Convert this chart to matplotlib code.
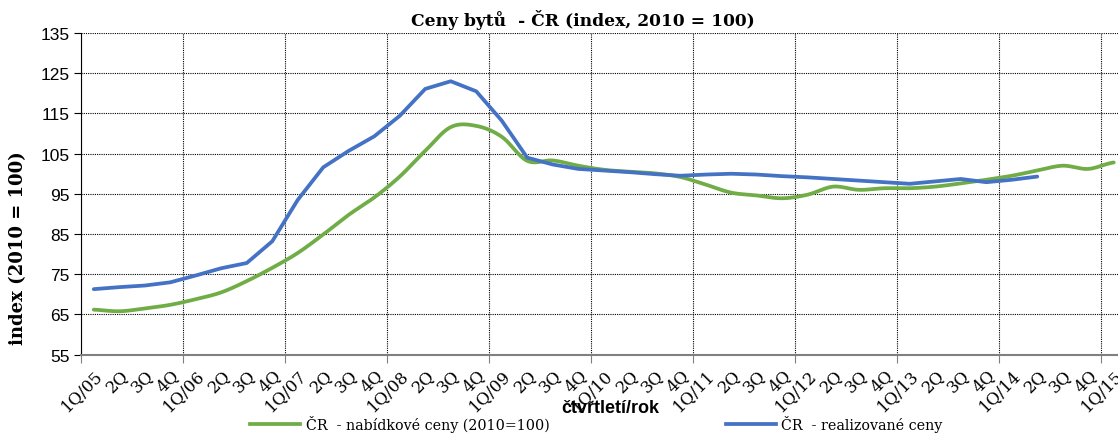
import numpy as np
import matplotlib
matplotlib.use('Agg')
import matplotlib.pyplot as plt
from matplotlib.lines import Line2D

# quarters 1Q/05 .. 1Q/15
years = ['05', '06', '07', '08', '09', '10', '11', '12', '13', '14', '15']
quarter_labels = []
for y in years[:-1]:
    quarter_labels += ['1Q/' + y, '2Q', '3Q', '4Q']
quarter_labels += ['1Q/' + years[-1]]

# CR - nabidkove ceny (2010=100)
offer = [66.2, 65.8, 66.5, 67.4, 68.8, 70.5, 73.3, 76.6, 80.3, 84.9,
         89.8, 94.1, 99.3, 105.7, 111.6, 111.9, 109.2, 103.2, 103.3, 102.0,
         101.0, 100.5, 100.1, 99.2, 97.3, 95.3, 94.6, 93.9, 94.8, 96.8,
         96.0, 96.4, 96.4, 96.8, 97.6, 98.5, 99.5, 100.8, 102.0, 101.2,
         102.8]

# CR - realizovane ceny
real = [71.3, 71.8, 72.2, 73.0, 74.7, 76.5, 77.8, 83.2, 93.5, 101.6,
        105.7, 109.3, 114.4, 121.1, 123.0, 120.5, 113.2, 104.0, 102.3, 101.2,
        100.8, 100.4, 99.9, 99.5, 99.8, 100.0, 99.8, 99.4, 99.1, 98.7,
        98.3, 97.9, 97.5, 98.1, 98.7, 97.9, 98.5, 99.3]

green = '#70AD47'
blue = '#4472C4'


def smooth(xs, ys, n=12):
    # catmull-rom, like excel's smoothed line
    xs = np.asarray(xs, float)
    ys = np.asarray(ys, float)
    outx, outy = [], []
    for i in range(len(xs) - 1):
        p0 = ys[i - 1] if i > 0 else ys[i]
        p1, p2 = ys[i], ys[i + 1]
        p3 = ys[i + 2] if i + 2 < len(ys) else ys[i + 1]
        t = np.linspace(0, 1, n, endpoint=False)
        yy = 0.5 * (2 * p1 + (-p0 + p2) * t + (2 * p0 - 5 * p1 + 4 * p2 - p3) * t ** 2
                    + (-p0 + 3 * p1 - 3 * p2 + p3) * t ** 3)
        outx += list(xs[i] + (xs[i + 1] - xs[i]) * t)
        outy += list(yy)
    outx.append(xs[-1])
    outy.append(ys[-1])
    return outx, outy


W, H = 1118, 435
fig = plt.figure(figsize=(W / 100, H / 100), dpi=100)
ax = fig.add_axes([81 / W, 1 - 355.7 / H, 1045.5 / W, 321.7 / H])

x_offer = np.arange(len(offer))
x_real = np.arange(len(real))
sx, sy = smooth(x_offer, offer)
ax.plot(sx, sy, color=green, lw=2.7, solid_capstyle='round', zorder=3)
ax.plot(x_real, real, color=blue, lw=2.7, solid_capstyle='round',
        solid_joinstyle='round', zorder=4)

ax.set_xlim(-0.5, len(quarter_labels) - 0.5)
ax.set_ylim(55, 135)
ax.set_yticks(np.arange(55, 136, 10))

# gridlines at year boundaries, labels at every quarter
ax.set_xticks(np.arange(-0.5, len(quarter_labels), 4))
ax.set_xticklabels([])
ax.set_xticks(np.arange(len(quarter_labels)), minor=True)
ax.set_xticklabels(quarter_labels, minor=True, rotation=45, ha='right',
                   rotation_mode='anchor', family='DejaVu Serif', fontsize=12)
ax.tick_params(axis='x', which='minor', length=0, pad=8)
ax.tick_params(axis='x', which='major', length=6, direction='out', color='#808080')
ax.tick_params(axis='y', length=5, direction='out', labelsize=12.5, pad=3)
for lab in ax.get_yticklabels():
    lab.set_family('Liberation Sans')

ax.grid(True, which='major', color='black', linestyle=(0, (1, 1)), lw=0.8)
ax.spines['top'].set_visible(False)
ax.spines['right'].set_visible(False)
ax.spines['left'].set_color('black')
ax.spines['bottom'].set_color('#808080')
ax.spines['bottom'].set_linewidth(1.5)

fig.text(583 / W, 1 - 20 / H, 'Ceny bytů  - ČR (index, 2010 = 100)', ha='center', va='center',
         family='DejaVu Serif', fontweight='bold', fontsize=12.3)
fig.text(18 / W, 1 - 248 / H, 'index (2010 = 100)', rotation=90, ha='center', va='center',
         family='DejaVu Serif', fontweight='bold', fontsize=13)
fig.text(610 / W, 1 - 409 / H, 'čtvrtletí/rok', ha='center', va='center',
         family='Liberation Sans', fontweight='bold', fontsize=13)

handles = [Line2D([], [], color=green, lw=2.7), Line2D([], [], color=blue, lw=2.7)]
fig.legend(handles, ['ČR  - nabídkové ceny (2010=100)', 'ČR  - realizované ceny'],
           loc='center left', bbox_to_anchor=(250 / W, 1 - 425 / H), ncol=2,
           frameon=False, borderpad=0, borderaxespad=0,
           prop={'family': 'DejaVu Serif', 'size': 10.3},
           handlelength=3.5, handletextpad=0.4, columnspacing=12.3)

fig.savefig('out.png', dpi=100)
